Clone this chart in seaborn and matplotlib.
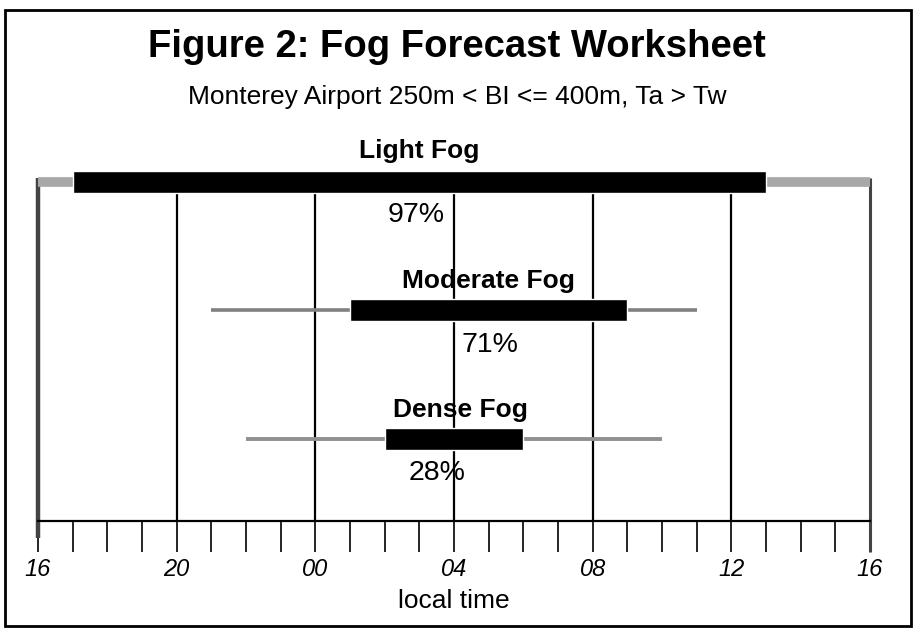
import matplotlib
matplotlib.use("Agg")
import matplotlib.pyplot as plt
from matplotlib.patches import Rectangle
from matplotlib.ticker import MultipleLocator, FixedLocator
import numpy as np
import pandas as pd
import seaborn as sns

# ---------------- data ----------------
categories = ["Light Fog", "Moderate Fog", "Dense Fog"]
# hours on a continuous clock starting at 16 (local time); 24 = midnight
range_start = [16, 21, 22]
range_end = [40, 35, 34]
likely_start = [17, 25, 26]
likely_end = [37, 33, 30]
percent = [97, 71, 28]
tick_hours = [16, 20, 24, 28, 32, 36, 40]
tick_labels = ["16", "20", "00", "04", "08", "12", "16"]

# ---------------- layout / style ----------------
row_y = {"Light Fog": 3.39, "Moderate Fog": 2.11, "Dense Fog": 0.82}
bar_h = {"Light Fog": 0.22, "Moderate Fog": 0.22, "Dense Fog": 0.22}
range_lw = {"Light Fog": 7.0, "Moderate Fog": 2.6, "Dense Fog": 2.8}
range_col = {"Light Fog": "#a8a8a8", "Moderate Fog": "#808080", "Dense Fog": "#909090"}
label_pos = {"Light Fog": (27.0, 3.70), "Moderate Fog": (29.0, 2.40), "Dense Fog": (28.2, 1.11)}
pct_pos = {"Light Fog": (26.9, 3.06), "Moderate Fog": (29.05, 1.76), "Dense Fog": (27.5, 0.48)}

sns.set_theme(style="white")
plt.rcParams["font.family"] = ["Liberation Sans", "DejaVu Sans"]
plt.rcParams["text.color"] = "black"
plt.rcParams["axes.labelcolor"] = "black"
plt.rcParams["xtick.color"] = "black"

fig = plt.figure(figsize=(9.14, 6.30), dpi=100)
fig.patch.set_facecolor("white")
ax = fig.add_axes([38 / 914, 109 / 630, 832 / 914, 371 / 630])
ax.set_xlim(16, 40)
ax.set_ylim(0, 3.71)

# grey possible-range lines via seaborn
rows = []
for c, s, e in zip(categories, range_start, range_end):
    rows.append({"fog": c, "time": s, "y": row_y[c]})
    rows.append({"fog": c, "time": e, "y": row_y[c]})
df = pd.DataFrame(rows)
sns.lineplot(data=df, x="time", y="y", hue="fog", size="fog",
             sizes=range_lw, palette=range_col, estimator=None, sort=False,
             legend=False, ax=ax, solid_capstyle="butt", zorder=3)

# black likely-range bars
for c, s, e in zip(categories, likely_start, likely_end):
    ax.barh(row_y[c], e - s, left=s, height=bar_h[c], color="black", zorder=4)

# vertical grid lines at the labelled hours
for h in tick_hours[1:-1]:
    ax.plot([h, h], [0, row_y["Light Fog"]], color="black", lw=1.6, zorder=2)
# end lines of the light-fog range
ax.plot([16, 16], [-0.17, row_y["Light Fog"] + 0.04], color="#444444", lw=3.2,
        zorder=2, clip_on=False, solid_capstyle="butt")
ax.plot([40, 40], [-0.31, row_y["Light Fog"] + 0.04], color="#444444", lw=2.2,
        zorder=2, clip_on=False, solid_capstyle="butt")

# labels
for c, p in zip(categories, percent):
    x, y = label_pos[c]
    ax.text(x, y, c, ha="center", va="center", fontsize=19, fontweight="bold",
            color="black", zorder=6)
    x, y = pct_pos[c]
    ax.text(x, y, f"{p}%", ha="center", va="center", fontsize=20.5,
            color="black", zorder=6)

# axes styling
for s in ["top", "left", "right"]:
    ax.spines[s].set_visible(False)
ax.spines["bottom"].set_color("black")
ax.spines["bottom"].set_linewidth(1.6)
ax.set_yticks([])
ax.set_ylabel("")
ax.xaxis.set_major_locator(FixedLocator(tick_hours))
ax.xaxis.set_minor_locator(MultipleLocator(1))
ax.set_xticklabels(tick_labels, fontstyle="italic", fontsize=17)
ax.tick_params(axis="x", which="both", direction="out", length=22.5, width=1.2,
               color="black", bottom=True, pad=4, labelcolor="black")
ax.set_xlabel("local time", fontsize=19, labelpad=6, color="black")

fig.text(0.5, 1 - 47 / 630, "Figure 2: Fog Forecast Worksheet", ha="center",
         va="center", fontsize=27.5, fontweight="bold", color="black")
fig.text(0.5, 1 - 97 / 630, "Monterey Airport 250m < BI <= 400m, Ta > Tw",
         ha="center", va="center", fontsize=19, color="black")

fig.patches.append(Rectangle((5 / 914, 4 / 630), 906 / 914, 616 / 630,
                             transform=fig.transFigure, fill=False,
                             edgecolor="black", linewidth=2.0))

fig.savefig("out.png", dpi=100)
